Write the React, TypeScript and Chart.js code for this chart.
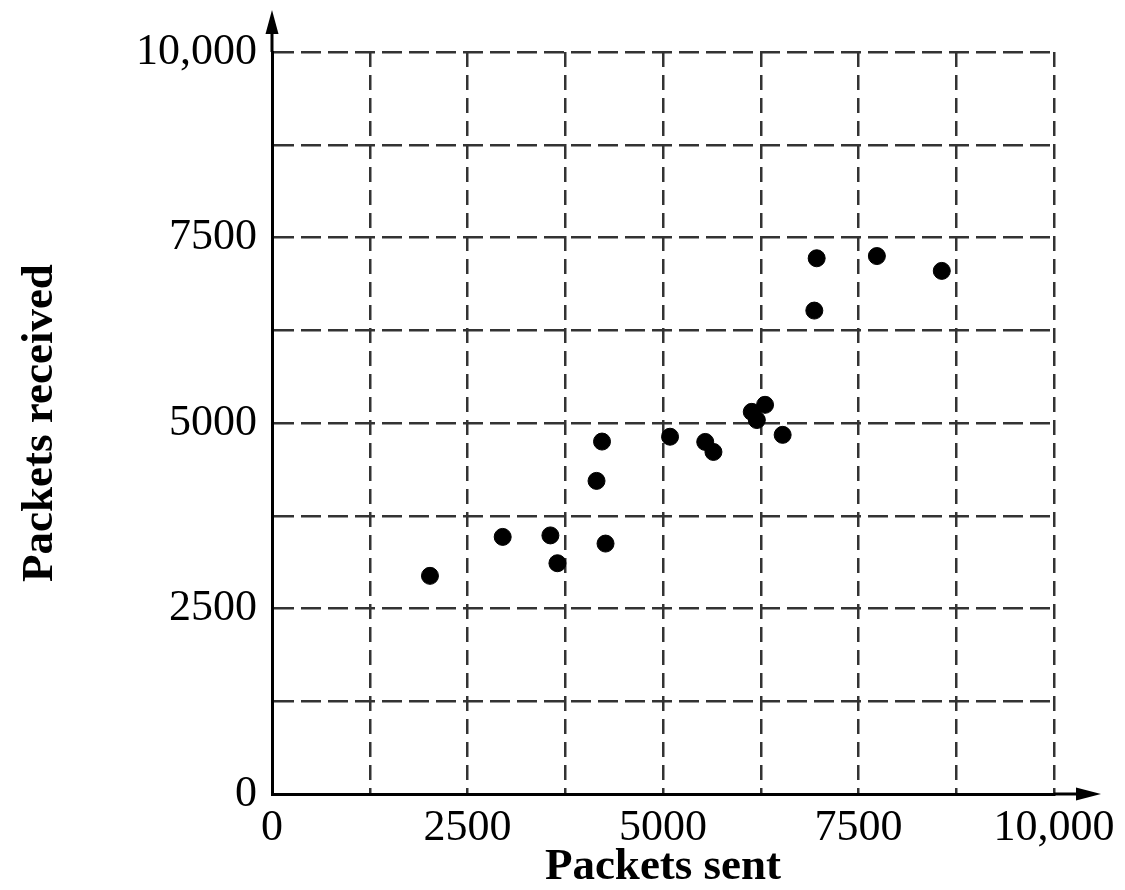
import React, { useEffect, useRef } from "react";
import { Chart, registerables } from "chart.js";

Chart.register(...registerables);

const packetsSent = [2020, 2950, 3560, 3650, 4150, 4220, 4265, 5090, 5540, 5645, 6135, 6200, 6305, 6530, 6935, 6965, 7735, 8565];
const packetsReceived = [2940, 3465, 3485, 3110, 4220, 4750, 3375, 4815, 4745, 4610, 5150, 5040, 5245, 4840, 6515, 7220, 7250, 7050];
const tickValues = [0, 2500, 5000, 7500, 10000];
const tickLabels = ["0", "2500", "5000", "7500", "10,000"];
const xTitle = "Packets sent";
const yTitle = "Packets received";

const labelFor = (v: number) => {
  const i = tickValues.indexOf(v);
  return i >= 0 ? tickLabels[i] : "";
};

const arrowPlugin = {
  id: "axisArrows",
  afterDraw(chart: any) {
    const { ctx } = chart;
    const xs = chart.scales.x;
    const ys = chart.scales.y;
    const x0 = xs.getPixelForValue(0);
    const y0 = ys.getPixelForValue(0);
    const top = chart.chartArea.top;
    const right = chart.chartArea.right;
    ctx.save();
    ctx.strokeStyle = "#000";
    ctx.fillStyle = "#000";
    ctx.lineWidth = 3;
    ctx.beginPath();
    ctx.moveTo(x0, top);
    ctx.lineTo(x0, 28);
    ctx.moveTo(right, y0);
    ctx.lineTo(1080, y0);
    ctx.stroke();
    ctx.beginPath();
    ctx.moveTo(x0, 10);
    ctx.lineTo(x0 - 6.5, 34);
    ctx.lineTo(x0 + 6.5, 34);
    ctx.closePath();
    ctx.fill();
    ctx.beginPath();
    ctx.moveTo(1101, y0);
    ctx.lineTo(1076, y0 - 6.5);
    ctx.lineTo(1076, y0 + 6.5);
    ctx.closePath();
    ctx.fill();
    ctx.restore();
  },
};

export default function App() {
  const ref = useRef<HTMLCanvasElement>(null);
  useEffect(() => {
    if (!ref.current) return;
    const font = { family: "Liberation Serif", size: 44 };
    const titleFont = { family: "Liberation Serif", size: 45, weight: "bold" as const };
    const chart = new Chart(ref.current, {
      type: "scatter",
      data: {
        datasets: [
          {
            data: packetsSent.map((x, i) => ({ x, y: packetsReceived[i] })),
            backgroundColor: "#000",
            borderColor: "#000",
            pointRadius: 8.5,
            pointHoverRadius: 8.5,
          },
        ],
      },
      options: {
        animation: false,
        responsive: false,
        maintainAspectRatio: false,
        layout: { padding: { top: 52, right: 71, left: 0, bottom: 0 } },
        plugins: { legend: { display: false }, tooltip: { enabled: false } },
        scales: {
          x: {
            type: "linear",
            min: 0,
            max: 10000,
            afterFit: (s: any) => {
              s.height = 96;
            },
            grid: { color: "#333", lineWidth: 2.5, drawTicks: false },
            border: { display: true, color: "#000", width: 3, dash: [15, 8] },
            ticks: {
              stepSize: 1250,
              autoSkip: false,
              maxRotation: 0,
              padding: 8,
              color: "#000",
              font,
              callback: (v: any) => labelFor(Number(v)),
            },
            title: {
              display: true,
              text: xTitle,
              color: "#000",
              font: { ...titleFont, lineHeight: 1.0 },
              padding: { top: 0, bottom: 0 },
            },
          },
          y: {
            type: "linear",
            min: 0,
            max: 10000,
            afterFit: (s: any) => {
              s.width = 272;
            },
            grid: { color: "#333", lineWidth: 2.5, drawTicks: false },
            border: { display: true, color: "#000", width: 3, dash: [20, 7] },
            ticks: {
              stepSize: 1250,
              autoSkip: false,
              padding: 15,
              color: "#000",
              font,
              callback: (v: any) => labelFor(Number(v)),
            },
            title: {
              display: true,
              text: yTitle,
              color: "#000",
              font: { ...titleFont, lineHeight: 1.2 },
              padding: { top: 13, bottom: 0 },
            },
          },
        },
      },
      plugins: [arrowPlugin],
    });
    return () => chart.destroy();
  }, []);
  return (
    <div style={{ position: "fixed", left: 0, top: 0, width: 1125, height: 890, background: "#fff" }}>
      <canvas ref={ref} width={1125} height={890} style={{ width: 1125, height: 890 }} />
    </div>
  );
}
